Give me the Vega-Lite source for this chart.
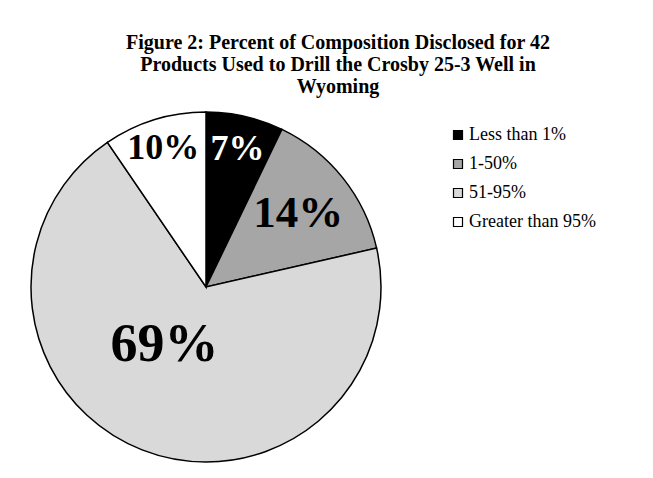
{
  "$schema": "https://vega.github.io/schema/vega-lite/v6.json",
  "autosize": "none",
  "width": 350,
  "height": 350,
  "padding": {"left": 31, "top": 112, "right": 272, "bottom": 16},
  "background": "white",
  "title": {
    "text": ["Figure 2: Percent  of Composition Disclosed for 42", "Products Used to Drill the Crosby 25-3 Well in", "Wyoming"],
    "font": "Liberation Serif",
    "fontSize": 20,
    "fontWeight": "bold",
    "color": "black",
    "anchor": "middle",
    "frame": "group",
    "dx": 132,
    "offset": 12,
    "lineHeight": 22
  },
  "data": {
    "values": [
      {"category": "Less than 1%", "count": 3, "label": "7%", "rank": 1},
      {"category": "1-50%", "count": 6, "label": "14%", "rank": 2},
      {"category": "51-95%", "count": 29, "label": "69%", "rank": 3},
      {"category": "Greater than 95%", "count": 4, "label": "10%", "rank": 4}
    ]
  },
  "encoding": {
    "theta": {"field": "count", "type": "quantitative", "stack": true},
    "order": {"field": "rank", "type": "quantitative"}
  },
  "layer": [
    {
      "mark": {"type": "arc", "stroke": "black", "strokeWidth": 1.5},
      "encoding": {
        "color": {
          "field": "category",
          "type": "nominal",
          "sort": null,
          "scale": {
            "domain": ["Less than 1%", "1-50%", "51-95%", "Greater than 95%"],
            "range": ["#000000", "#a6a6a6", "#d9d9d9", "#ffffff"]
          },
          "legend": {
            "title": null,
            "orient": "none",
            "legendX": 418,
            "legendY": 14,
            "symbolType": "square",
            "symbolSize": 81,
            "symbolStrokeColor": "black",
            "symbolStrokeWidth": 1.2,
            "labelFont": "Liberation Serif",
            "labelFontSize": 18,
            "labelColor": "black",
            "labelOffset": 2,
            "rowPadding": 11
          }
        }
      }
    },
    {
      "mark": {"type": "text", "radius": 142, "fontSize": 36, "font": "Liberation Serif", "fontWeight": "bold", "color": "white"},
      "encoding": {"text": {"condition": {"test": "datum.rank === 1", "field": "label"}, "value": ""}}
    },
    {
      "mark": {"type": "text", "radius": 118, "fontSize": 45, "font": "Liberation Serif", "fontWeight": "bold", "color": "black"},
      "encoding": {"text": {"condition": {"test": "datum.rank === 2", "field": "label"}, "value": ""}}
    },
    {
      "mark": {"type": "text", "radius": 75, "fontSize": 54, "font": "Liberation Serif", "fontWeight": "bold", "color": "black", "dx": -14, "dy": -12},
      "encoding": {"text": {"condition": {"test": "datum.rank === 3", "field": "label"}, "value": ""}}
    },
    {
      "mark": {"type": "text", "radius": 145, "fontSize": 36, "font": "Liberation Serif", "fontWeight": "bold", "color": "black"},
      "encoding": {"text": {"condition": {"test": "datum.rank === 4", "field": "label"}, "value": ""}}
    }
  ]
}
